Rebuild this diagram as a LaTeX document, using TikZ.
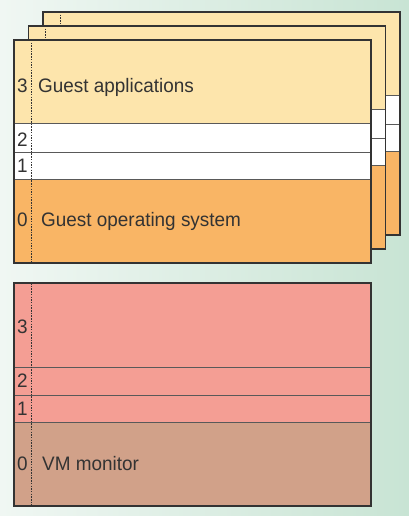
\documentclass[tikz,border=0pt]{standalone}
\usepackage{fontspec}
\setmainfont[FakeStretch=0.97]{Liberation Sans}
\definecolor{bgl}{HTML}{F0F7F3}
\definecolor{bgr}{HTML}{C8E4D4}
\definecolor{ya}{HTML}{FDE5AC}
\definecolor{og}{HTML}{F9B565}
\definecolor{pk}{HTML}{F49E94}
\definecolor{br}{HTML}{D1A189}
\definecolor{ink}{HTML}{333333}
\newcommand\gbox[2]{%
 \begin{scope}[shift={(#1,#2)}]
  \fill[ya] (14,40) rectangle (371,123);
  \fill[white] (14,123) rectangle (371,179);
  \fill[og] (14,179) rectangle (371,263);
  \draw[sepline] (14,123) -- (371,123) (14,152) -- (371,152) (14,179) -- (371,179);
  \draw[ringline] (31,40) -- (31,263);
  \draw[frame] (14,40) rectangle (371,263);
 \end{scope}}
\begin{document}
\begin{tikzpicture}[x=1pt,y=-1pt,
  frame/.style={draw=ink,line width=1.4pt},
  sepline/.style={draw=black!65,line width=0.9pt},
  ringline/.style={draw=ink,dash pattern=on 1.5pt off 1.2pt,line width=0.9pt},
  lbl/.style={font=\fontsize{19.5}{22}\selectfont,text=ink,inner sep=0pt,anchor=base west},
  num/.style={font=\fontsize{19.5}{22}\selectfont,text=ink,inner sep=0pt,anchor=base}]
\useasboundingbox (0,0) rectangle (409,516);
\shade[left color=bgl,right color=bgr] (0,0) rectangle (409,516);
% guest stack
\gbox{29}{-28}
\gbox{14.5}{-14}
\gbox{0}{0}
\node[num] (g3) at (22.5,93) {3};
\node[num] (g2) at (22.5,146) {2};
\node[num] (g1) at (22.5,172) {1};
\node[num] (g0) at (22.5,226) {0};
\node[lbl] (ga) at (38,93) {Guest applications};
\node[lbl] (gos) at (41,226) {Guest operating system};
% host
\fill[pk] (14,283) rectangle (371,422);
\fill[br] (14,422) rectangle (371,506);
\draw[sepline] (14,367) -- (371,367) (14,395) -- (371,395) (14,422) -- (371,422);
\draw[ringline] (31,283) -- (31,506);
\draw[frame] (14,283) rectangle (371,506);
\node[num] (h3) at (22.5,333) {3};
\node[num] (h2) at (22.5,387) {2};
\node[num] (h1) at (22.5,415) {1};
\node[num] (h0) at (22.5,470) {0};
\node[lbl] (vmm) at (42,470) {VM monitor};
\end{tikzpicture}
\end{document}
